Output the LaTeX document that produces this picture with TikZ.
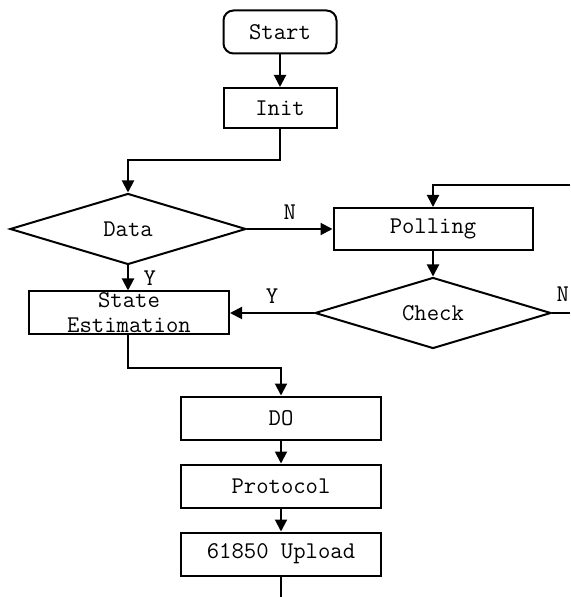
\documentclass[tikz,border=0pt]{standalone}
\usetikzlibrary{shapes.geometric,arrows.meta}
\begin{document}
\begin{tikzpicture}[x=0.5pt,y=-0.5pt,line width=1pt,
font=\ttfamily\fontsize{12}{12.5}\selectfont,
box/.style={draw,rectangle,minimum width=100pt,minimum height=21.5pt,inner sep=0pt},
cond/.style={draw,diamond,aspect=3.3,minimum width=118pt,minimum height=35.5pt,inner sep=0pt},
arr/.style={-{Triangle[length=6pt,width=6pt]}}]
\useasboundingbox (0,0) rectangle (570,597);
\node[box,rounded corners=5pt,minimum width=56.5pt] (start) at (280,32) {Start};
\node[box,minimum width=56.5pt,minimum height=20pt] (init) at (280,108) {Init};
\node[cond] (data) at (128,229) {Data};
\node[box,minimum width=99.5pt,minimum height=21pt] (poll) at (433,229) {Polling};
\node[cond] (check) at (433,313) {Check};
\node[box,align=center] (est) at (129,313) {State\\Estimation};
\node[box] (do) at (281,418) {DO};
\node[box] (proto) at (281,486) {Protocol};
\node[box] (upload) at (281,554) {61850 Upload};
\coordinate (back) at (570,185);
\coordinate (nout) at (570,313);
\coordinate (tail) at (281,597);

\draw [arr] (start) -- (init);
\draw [arr] (init.south) |- (128,160) -- (data.north);
\draw [arr] (data.east) -- node[above=1pt] {N} (poll.west);
\draw [arr] (back) -| (poll.north);
\draw [arr] (poll) -- (check);
\draw [arr] (check.west) -- node[above=1pt] {Y} (est.east);
\draw (check.east) -- node[above=2pt,pos=0.6] {N} (nout);
\draw [arr] (data.south) -- node[right=4pt] {Y} (est.north -| data.south);
\draw [arr] (est.south -| data.south) |- (281,368) -- (do.north);
\draw [arr] (do) -- (proto);
\draw [arr] (proto) -- (upload);
\draw (upload) -- (tail);
\end{tikzpicture}
\end{document}
